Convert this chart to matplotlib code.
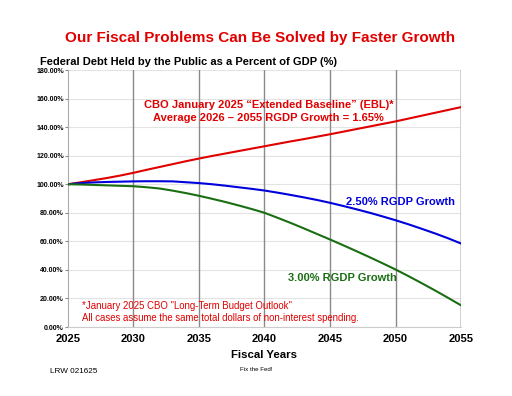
import matplotlib
matplotlib.use("Agg")
import matplotlib.pyplot as plt
from matplotlib.ticker import FuncFormatter

plt.rcParams['font.family'] = ['Liberation Sans', 'DejaVu Sans']

years = list(range(2025, 2056))
ebl = [100, 101.4, 102.9, 104.4, 106.1, 108.0, 110.1, 112.1, 114.1, 116.1, 118.0,
       119.8, 121.5, 123.2, 124.9, 126.6, 128.3, 130.0, 131.6, 133.3, 135.0,
       136.8, 138.6, 140.4, 142.2, 144.0, 146.0, 148.0, 150.0, 152.0, 154.0]
g250 = [100, 100.8, 101.3, 101.6, 101.8, 102.0, 102.1, 102.1, 102.0, 101.4, 100.8,
        100.0, 99.0, 97.9, 96.8, 95.6, 94.1, 92.5, 90.8, 89.0, 87.0,
        84.8, 82.5, 80.1, 77.5, 74.8, 71.9, 68.8, 65.6, 62.2, 58.5]
g300 = [100, 99.8, 99.5, 99.2, 98.9, 98.6, 97.9, 97.0, 95.5, 93.8, 91.9,
        89.8, 87.6, 85.2, 82.7, 80.0, 76.5, 72.9, 69.1, 65.2, 61.3,
        57.3, 53.2, 49.0, 44.7, 40.3, 35.6, 30.7, 25.7, 20.5, 15.2]
xticks = [2025, 2030, 2035, 2040, 2045, 2050, 2055]
yticks = [0, 20, 40, 60, 80, 100, 120, 140, 160, 180]

fig = plt.figure(figsize=(5.12, 3.96), dpi=100)
ax = fig.add_axes([0.1328, 0.1742, 0.7676, 0.649])

for y in yticks:
    ax.axhline(y, color='#e3e3e3', lw=0.8, zorder=0)
for x in xticks[1:-1]:
    ax.axvline(x, color='#8a8a8a', lw=1.0, zorder=1)
ax.axvline(2055, color='#c8c8c8', lw=1.2, zorder=1)

ax.plot(years, ebl, color='#e00000', lw=1.5, zorder=3)
ax.plot(years, g250, color='#0000dd', lw=1.5, zorder=3)
ax.plot(years, g300, color='#1a6e12', lw=1.5, zorder=3)

ax.set_xlim(2025, 2055)
ax.set_ylim(0, 180)
ax.set_xticks(xticks)
ax.set_yticks(yticks)
ax.yaxis.set_major_formatter(FuncFormatter(lambda v, p: f"{v:.2f}%"))
for s in ['top', 'right']:
    ax.spines[s].set_visible(False)
ax.spines['left'].set_color('#aaaaaa')
ax.spines['bottom'].set_color('#cccccc')
ax.tick_params(axis='y', labelsize=5, length=2, color='#888888', pad=1)
ax.tick_params(axis='x', labelsize=8, length=0, pad=5)
for lab in ax.get_xticklabels():
    lab.set_fontweight('bold')
for lab in ax.get_yticklabels():
    lab.set_fontweight('bold')
ax.set_xlabel("Fiscal Years", fontsize=8.2, fontweight='bold', labelpad=4)

fig.text(0.508, 0.905, "Our Fiscal Problems Can Be Solved by Faster Growth",
         color='#e00000', fontsize=11, fontweight='bold', ha='center', va='center')
fig.text(0.078, 0.843, "Federal Debt Held by the Public as a Percent of GDP (%)",
         fontsize=8, fontweight='bold', ha='left', va='center')

ax.text(2040.3, 151, "CBO January 2025 \u201cExtended Baseline\u201d (EBL)*\nAverage 2026 \u2013 2055 RGDP Growth = 1.65%",
        color='#e00000', fontsize=8, fontweight='bold', ha='center', va='center', linespacing=1.3)
ax.text(2046.2, 87.5, "2.50% RGDP Growth", color='#0000dd', fontsize=8,
        fontweight='bold', ha='left', va='center')
ax.text(2041.8, 34.5, "3.00% RGDP Growth", color='#1a6e12', fontsize=8,
        fontweight='bold', ha='left', va='center')
ax.text(2026.05, 10.5, "*January 2025 CBO \"Long-Term Budget Outlook\"\nAll cases assume the same total dollars of non-interest spending.",
        color='#e00000', fontsize=6.9, ha='left', va='center', linespacing=1.35)

fig.text(0.097, 0.062, "LRW 021625", fontsize=5.9, ha='left', va='center')
fig.text(0.5, 0.068, "Fix the Fed!", fontsize=4.4, ha='center', va='center')

fig.savefig("out.png", dpi=100)
